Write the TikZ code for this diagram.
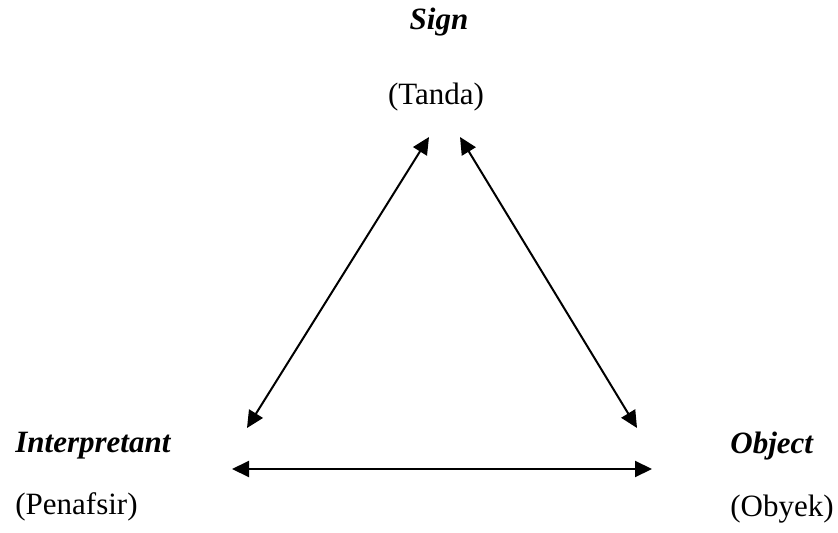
\documentclass[tikz,border=0pt]{standalone}
\usepackage{fontspec}
\setmainfont{Liberation Serif}
\usetikzlibrary{arrows.meta}

\tikzset{
	term/.style={inner sep=0pt, font=\fontsize{15.5}{18}\selectfont\bfseries\itshape},
	gloss/.style={inner sep=0pt, font=\fontsize{15.5}{18}\selectfont},
	link/.style={line width=1pt, {Triangle[length=8.5pt, width=8pt]}-{Triangle[length=8.5pt, width=8pt]}}
}

\begin{document}
\begin{tikzpicture}[x=0.5pt, y=-0.5pt]
	\useasboundingbox (0, 0) rectangle (838, 533);
	% Labels:
	\node[term, anchor=base] (sign) at (439, 30){Sign};
	\node[gloss, anchor=base] (tanda) at (436, 105){(Tanda)};
	\node[term, anchor=base west] (interp) at (15, 452){Interpretant};
	\node[gloss, anchor=base west] (penafsir) at (15, 514){(Penafsir)};
	\node[term, anchor=base west] (object) at (730, 453){Object};
	\node[gloss, anchor=base west] (obyek) at (730, 516){(Obyek)};
	% Arrow ends:
	\coordinate (si) at (429, 137);
	\coordinate (so) at (460, 137);
	\coordinate (is) at (247, 428);
	\coordinate (os) at (637, 428);
	\coordinate (io) at (232, 469);
	\coordinate (oi) at (652, 469);
	% Arrows:
	\draw[link] (is) -- (si);
	\draw[link] (os) -- (so);
	\draw[link] (io) -- (oi);
\end{tikzpicture}
\end{document}
